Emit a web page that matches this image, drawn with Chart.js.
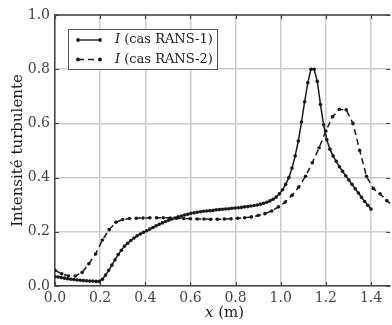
<!DOCTYPE html>
<html>
<head>
<meta charset="utf-8">
<script src="https://cdn.jsdelivr.net/npm/chart.js@4.4.0/dist/chart.umd.min.js"></script>
<style>
  html, body { margin: 0; padding: 0; background: #fff; }
  #wrap { width: 392px; height: 325px; position: relative; }
</style>
</head>
<body>
<div id="wrap"><canvas id="chart"></canvas></div>
<script>
/* ---------- données ---------- */
// cas RANS-1 (trait plein) : abscisses x (m)
const xRans1 = [
  0.000, 0.014, 0.028, 0.042, 0.056, 0.070, 0.084, 0.098, 0.112, 0.126,
  0.140, 0.154, 0.168, 0.182, 0.196, 0.210, 0.224, 0.238, 0.252, 0.266,
  0.280, 0.294, 0.308, 0.322, 0.336, 0.350, 0.364, 0.378, 0.392, 0.406,
  0.420, 0.434, 0.448, 0.462, 0.476, 0.490, 0.504, 0.518, 0.532, 0.546,
  0.560, 0.574, 0.588, 0.602, 0.616, 0.630, 0.644, 0.658, 0.672, 0.686,
  0.700, 0.714, 0.728, 0.742, 0.756, 0.770, 0.784, 0.798, 0.812, 0.826,
  0.840, 0.854, 0.868, 0.882, 0.896, 0.910, 0.924, 0.938, 0.952, 0.966,
  0.980, 0.994, 1.008, 1.022, 1.036, 1.050, 1.064, 1.078, 1.092, 1.106,
  1.120, 1.134, 1.148, 1.162, 1.176, 1.190, 1.204, 1.218, 1.232, 1.246,
  1.260, 1.274, 1.288, 1.302, 1.316, 1.330, 1.344, 1.358, 1.372, 1.386,
  1.400
];
// intensité turbulente, cas RANS-1
const iRans1 = [
  0.035, 0.033, 0.031, 0.029, 0.027, 0.025, 0.024, 0.022, 0.021, 0.020,
  0.019, 0.018, 0.018, 0.017, 0.017, 0.025, 0.040, 0.058, 0.077, 0.097,
  0.116, 0.132, 0.147, 0.158, 0.168, 0.177, 0.185, 0.192, 0.198, 0.204,
  0.210, 0.216, 0.222, 0.228, 0.233, 0.238, 0.243, 0.247, 0.251, 0.255,
  0.258, 0.262, 0.265, 0.268, 0.270, 0.272, 0.274, 0.276, 0.277, 0.278,
  0.279, 0.281, 0.282, 0.283, 0.284, 0.285, 0.287, 0.288, 0.289, 0.290,
  0.292, 0.293, 0.295, 0.297, 0.299, 0.302, 0.305, 0.309, 0.314, 0.320,
  0.328, 0.340, 0.355, 0.375, 0.400, 0.435, 0.480, 0.535, 0.605, 0.680,
  0.750, 0.800, 0.800, 0.755, 0.670, 0.595, 0.540, 0.505, 0.480, 0.460,
  0.440, 0.423, 0.407, 0.391, 0.375, 0.359, 0.343, 0.327, 0.312, 0.298,
  0.284
];
// cas RANS-2 (tirets) : abscisses x (m)
const xRans2 = [
  0.00, 0.03, 0.06, 0.09, 0.12, 0.15, 0.18, 0.21, 0.24, 0.27,
  0.30, 0.33, 0.36, 0.39, 0.42, 0.45, 0.48, 0.51, 0.54, 0.57,
  0.60, 0.63, 0.66, 0.69, 0.72, 0.75, 0.78, 0.81, 0.84, 0.87,
  0.90, 0.93, 0.96, 0.99, 1.02, 1.05, 1.08, 1.11, 1.14, 1.17,
  1.20, 1.23, 1.26, 1.29, 1.32, 1.35, 1.38, 1.41, 1.44, 1.47,
  1.50
];
// intensité turbulente, cas RANS-2
const iRans2 = [
  0.058, 0.045, 0.037, 0.037, 0.050, 0.082, 0.118, 0.170, 0.208, 0.235,
  0.245, 0.249, 0.250, 0.251, 0.252, 0.252, 0.252, 0.251, 0.250, 0.249,
  0.248, 0.247, 0.247, 0.246, 0.246, 0.247, 0.248, 0.250, 0.252, 0.255,
  0.260, 0.267, 0.277, 0.292, 0.310, 0.335, 0.365, 0.405, 0.455, 0.510,
  0.572, 0.625, 0.652, 0.650, 0.600, 0.500, 0.405, 0.360, 0.340, 0.315,
  0.295
];
const xTicks = [0.0, 0.2, 0.4, 0.6, 0.8, 1.0, 1.2, 1.4];
const yTicks = [0.0, 0.2, 0.4, 0.6, 0.8, 1.0];
const legendLabels = ['(cas RANS-1)', '(cas RANS-2)'];

/* ---------- style ---------- */
const SERIF = '"DejaVu Serif", serif';
const INK = '#1a1a1a';
const SPINE = '#444';
const GRID = '#cccccc';

function pts(xs, ys) { return xs.map((x, i) => ({ x: x, y: ys[i] })); }

// cadre, petites graduations intérieures et légende façon matplotlib
const decor = {
  id: 'decor',
  afterDatasetsDraw(chart) {
    const { ctx, chartArea: a, scales: { x, y } } = chart;
    ctx.save();
    ctx.strokeStyle = SPINE;
    ctx.lineWidth = 1.5;
    ctx.beginPath();
    ctx.moveTo(a.left, a.top); ctx.lineTo(a.right, a.top);
    ctx.stroke();
    ctx.lineWidth = 1.2;
    ctx.beginPath();
    xTicks.forEach(v => {
      const px = Math.round(x.getPixelForValue(v)) + 0.5;
      ctx.moveTo(px, a.bottom); ctx.lineTo(px, a.bottom - 4);
      ctx.moveTo(px, a.top); ctx.lineTo(px, a.top + 4);
    });
    yTicks.forEach(v => {
      const py = Math.round(y.getPixelForValue(v)) + 0.5;
      ctx.moveTo(a.left, py); ctx.lineTo(a.left + 4, py);
      ctx.moveTo(a.right, py); ctx.lineTo(a.right - 4, py);
    });
    ctx.stroke();

    // légende
    const bx = 68.5, by = 29.5, bw = 149, bh = 40;
    ctx.fillStyle = '#fff';
    ctx.fillRect(bx, by, bw, bh);
    ctx.strokeStyle = '#555';
    ctx.lineWidth = 1;
    ctx.strokeRect(bx, by, bw, bh);
    chart.data.datasets.forEach((ds, i) => {
      const ly = 40 + i * 19.5;
      ctx.strokeStyle = INK;
      ctx.lineWidth = 1.4;
      ctx.setLineDash(ds.borderDash || []);
      ctx.beginPath(); ctx.moveTo(78, ly); ctx.lineTo(100, ly); ctx.stroke();
      ctx.setLineDash([]);
      ctx.fillStyle = INK;
      [78, 100].forEach(mx => { ctx.beginPath(); ctx.arc(mx, ly, 1.9, 0, Math.PI * 2); ctx.fill(); });
      ctx.textBaseline = 'middle';
      ctx.font = 'italic 13px ' + SERIF;
      ctx.fillText('I', 115, ly);
      const w = ctx.measureText('I ').width;
      ctx.font = '13px ' + SERIF;
      ctx.fillText(legendLabels[i], 115 + w, ly);
    });
    ctx.restore();
  }
};

// titre de l'axe x avec x en italique
const xTitle = {
  id: 'xTitle',
  afterDraw(chart) {
    const { ctx } = chart;
    ctx.save();
    ctx.fillStyle = INK;
    ctx.textBaseline = 'middle';
    ctx.font = 'italic 15px ' + SERIF;
    const w1 = ctx.measureText('x ').width;
    ctx.fillText('x', 205, 313);
    ctx.font = '15px ' + SERIF;
    ctx.fillText('(m)', 205 + w1, 313);
    ctx.restore();
  }
};

const lineCommon = {
  borderColor: INK,
  backgroundColor: INK,
  borderWidth: 1.5,
  pointRadius: 1.8,
  pointHoverRadius: 1.8,
  pointBorderWidth: 0,
  tension: 0,
  fill: false
};

new Chart(document.getElementById('chart'), {
  type: 'line',
  data: {
    datasets: [
      Object.assign({ label: 'RANS-1', data: pts(xRans1, iRans1) }, lineCommon),
      Object.assign({ label: 'RANS-2', data: pts(xRans2, iRans2), borderDash: [6, 4] }, lineCommon)
    ]
  },
  options: {
    responsive: true,
    maintainAspectRatio: false,
    animation: false,
    devicePixelRatio: 1,
    layout: { padding: { left: 0, right: 0, top: 15, bottom: 0 } },
    plugins: { legend: { display: false }, tooltip: { enabled: false } },
    scales: {
      x: {
        type: 'linear',
        min: 0,
        max: 1.485,
        afterBuildTicks: s => { s.ticks = xTicks.map(v => ({ value: v })); },
        afterFit: s => { s.height = 39; },
        grid: { color: GRID, lineWidth: 1.5, drawTicks: false },
        border: { color: SPINE, width: 1.5 },
        ticks: {
          color: '#444',
          padding: 4,
          maxRotation: 0,
          font: { family: SERIF, size: 14 },
          callback: v => v.toFixed(1)
        },
        title: { display: false }
      },
      y: {
        min: 0,
        max: 1.0,
        afterBuildTicks: s => { s.ticks = yTicks.map(v => ({ value: v })); },
        afterFit: s => { s.width = 55; },
        grid: { color: GRID, lineWidth: 1.5, drawTicks: false },
        border: { color: SPINE, width: 1.5 },
        ticks: {
          color: '#444',
          padding: 5,
          font: { family: SERIF, size: 14 },
          callback: v => v.toFixed(1)
        },
        title: {
          display: true,
          text: 'Intensité turbulente',
          color: INK,
          padding: { top: 9, bottom: 0 },
          font: { family: SERIF, size: 15 }
        }
      }
    }
  },
  plugins: [decor, xTitle]
});
</script>
</body>
</html>
